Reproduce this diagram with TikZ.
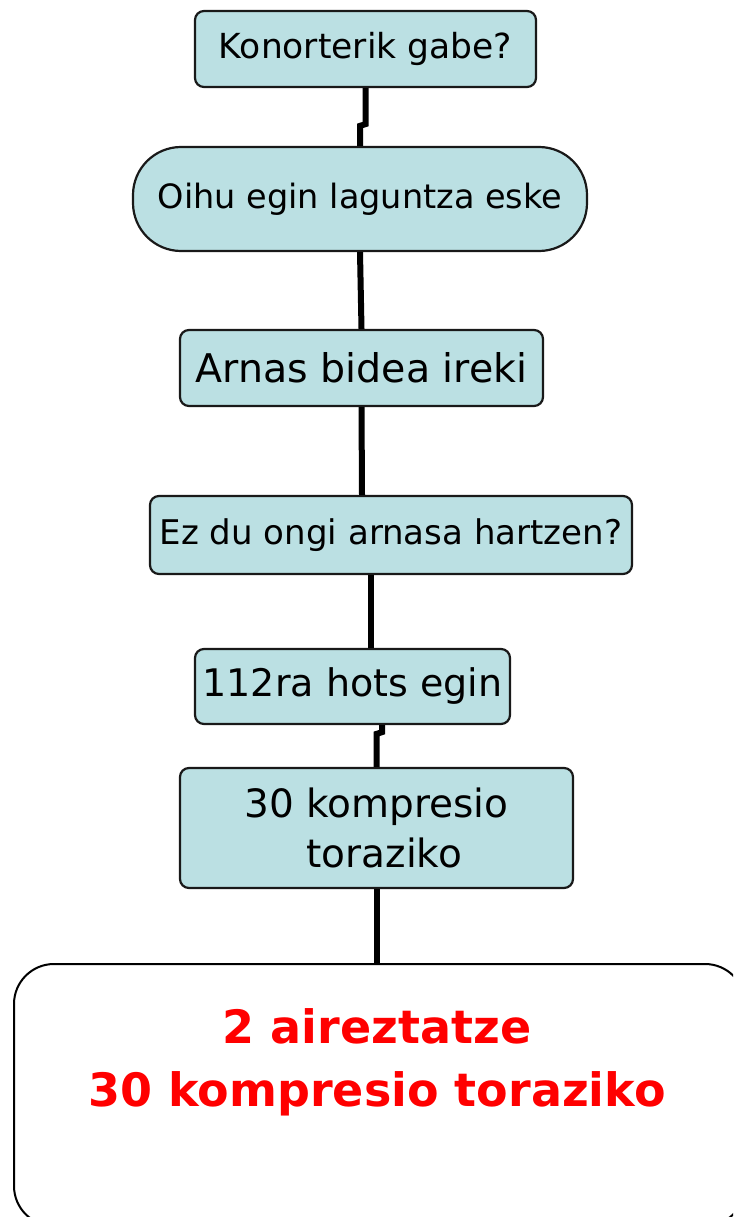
\documentclass[tikz,border=0pt]{standalone}
\usepackage{fontspec}
\setmainfont{DejaVu Sans}
\definecolor{boxfill}{HTML}{BBE0E3}
\tikzset{
  box/.style={draw=black!90, line width=2.2pt, fill=boxfill, rounded corners=9pt, inner sep=0pt, align=center},
  conn/.style={line width=6pt, black},
}
\begin{document}
\begin{tikzpicture}[x=1pt,y=-1pt]
\useasboundingbox (0,0) rectangle (733,1217);
\clip (0,0) rectangle (733,1217);
\node[box, minimum width=341pt, minimum height=76pt, font=\fontsize{34.5}{40}\selectfont] (b1) at (365.5,49) {Konorterik gabe?};
\node[box, rounded corners=48pt, minimum width=454pt, minimum height=104pt, font=\fontsize{33.5}{40}\selectfont] (b2) at (360,199) {Oihu egin laguntza eske};
\node[box, minimum width=363pt, minimum height=76pt, font=\fontsize{39.5}{46}\selectfont] (b3) at (361.5,368) {Arnas bidea ireki};
\node[box, minimum width=482pt, minimum height=78pt, font=\fontsize{34}{40}\selectfont] (b4) at (391,535) {Ez du ongi arnasa hartzen?};
\node[box, minimum width=315pt, minimum height=75pt, font=\fontsize{38}{44}\selectfont] (b5) at (352.5,686.5) {112ra hots egin};
\node[box, minimum width=393pt, minimum height=120pt, font=\fontsize{39}{50}\selectfont] (b6) at (376.5,828) {30 kompresio\\\hspace*{0.4em}toraziko};
\node[draw=black, line width=2pt, fill=white, rounded corners=40pt, minimum width=731pt, minimum height=262pt] (b7) at (379.5,1095) {};
\node[text=red, font=\bfseries\fontsize{46}{63}\selectfont, align=center] (t7) at (377,1062) {2 aireztatze\\30 kompresio toraziko};
\draw[conn] (b1.south) -- ([yshift=-36pt]b1.south) -- ([yshift=20pt]b2.north) -- (b2.north);
\draw[conn] (b2.south) -- (b3.north);
\draw[conn] (b3.south) -- ([xshift=-29pt]b4.north);
\draw[conn] ([xshift=-20pt]b4.south) -- ([xshift=18.5pt]b5.north);
\draw[conn] ([xshift=29.5pt]b5.south) -- ([xshift=29.5pt,yshift=-7pt]b5.south) -- ([yshift=33pt]b6.north) -- (b6.north);
\draw[conn] (b6.south) -- (b6.south |- b7.north);
\end{tikzpicture}
\end{document}
